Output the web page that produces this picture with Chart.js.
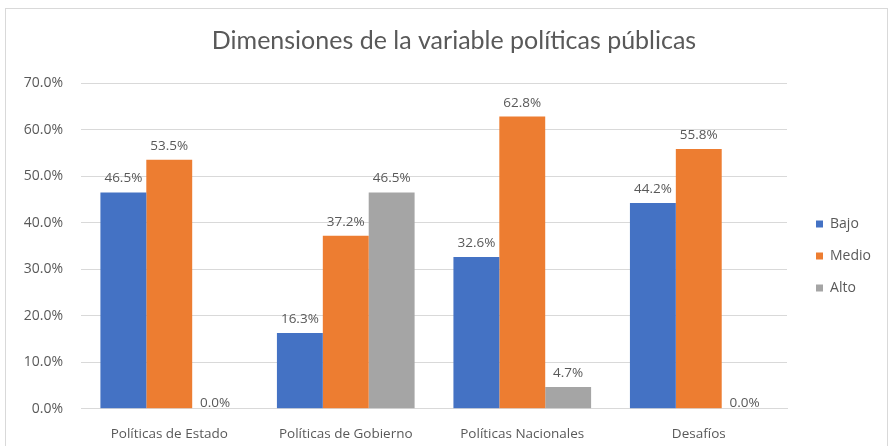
<!DOCTYPE html>
<html><head><meta charset="utf-8">
<script src="https://cdn.jsdelivr.net/npm/chart.js@4.4.0/dist/chart.umd.min.js"></script>
<style>
html,body{margin:0;padding:0;background:#fff;overflow:hidden;}
#wrap{position:absolute;left:5px;top:8px;width:881px;height:446px;border:1px solid #d9d9d9;background:#fff;}
canvas{display:block;}
</style></head><body>
<div id="wrap"><canvas id="c" width="881" height="446"></canvas></div>
<script>
const categories = ["Políticas de Estado","Políticas de Gobierno","Políticas Nacionales","Desafíos"];
const bajo = [46.5, 16.3, 32.6, 44.2];
const medio = [53.5, 37.2, 62.8, 55.8];
const alto = [0.0, 46.5, 4.7, 0.0];
const yTicks = [0,10,20,30,40,50,60,70];
const title = "Dimensiones de la variable políticas públicas";
const TFONT = "Lato, 'Open Sans', sans-serif";
const FONT = "'Open Sans', Lato, sans-serif";
const TXT = "#595959";

const labelPlugin = {
  id:'dl',
  afterLayout(chart){
    const lg = chart.legend;
    if(lg){ lg.left += 11; lg.right += 11; lg.top += 21; lg.bottom += 21; }
    const tb = chart.titleBlock;
    if(tb){ tb.left += 16; tb.right += 16; }
  },
  afterDatasetsDraw(chart){
    const ctx = chart.ctx;
    ctx.save();
    ctx.font = "13.5px " + FONT;
    ctx.fillStyle = TXT;
    ctx.textAlign = 'center';
    chart.data.datasets.forEach((ds,i)=>{
      const meta = chart.getDatasetMeta(i);
      meta.data.forEach((bar,j)=>{
        const v = ds.data[j];
        if (v === 0) {
          ctx.textBaseline = 'middle';
          ctx.fillText(v.toFixed(1)+'%', bar.x, bar.y-6);
        } else {
          ctx.textBaseline = 'bottom';
          ctx.fillText(v.toFixed(1)+'%', bar.x, bar.y-7);
        }
      });
    });
    ctx.restore();
  }
};

new Chart(document.getElementById('c'),{
  type:'bar',
  data:{
    labels:categories,
    datasets:[
      {label:'Bajo',data:bajo,backgroundColor:'#4472C4'},
      {label:'Medio',data:medio,backgroundColor:'#ED7D31'},
      {label:'Alto',data:alto,backgroundColor:'#A5A5A5'}
    ]
  },
  options:{
    responsive:false,animation:false,
    layout:{padding:{left:0,right:17,top:10,bottom:4}},
    datasets:{bar:{categoryPercentage:0.78,barPercentage:1.0}},
    plugins:{
      title:{display:true,text:title,color:TXT,font:{family:TFONT,size:25,weight:'normal'},padding:{top:7,bottom:27}},
      legend:{position:'right',labels:{color:TXT,font:{family:FONT,size:14},boxWidth:7,boxHeight:7,padding:18}},
      tooltip:{enabled:false}
    },
    scales:{
      x:{grid:{display:false},border:{color:'#d9d9d9'},ticks:{color:TXT,font:{family:FONT,size:13.5},padding:9}},
      y:{min:0,max:70,afterBuildTicks(s){s.ticks=yTicks.map(v=>({value:v}));},
         afterFit(s){s.width=75;},
         grid:{color:'#d9d9d9',drawTicks:false},border:{display:false},
         ticks:{color:TXT,font:{family:FONT,size:14},padding:18,callback:v=>v.toFixed(1)+'%'}}
    }
  },
  plugins:[labelPlugin]
});
</script></body></html>
